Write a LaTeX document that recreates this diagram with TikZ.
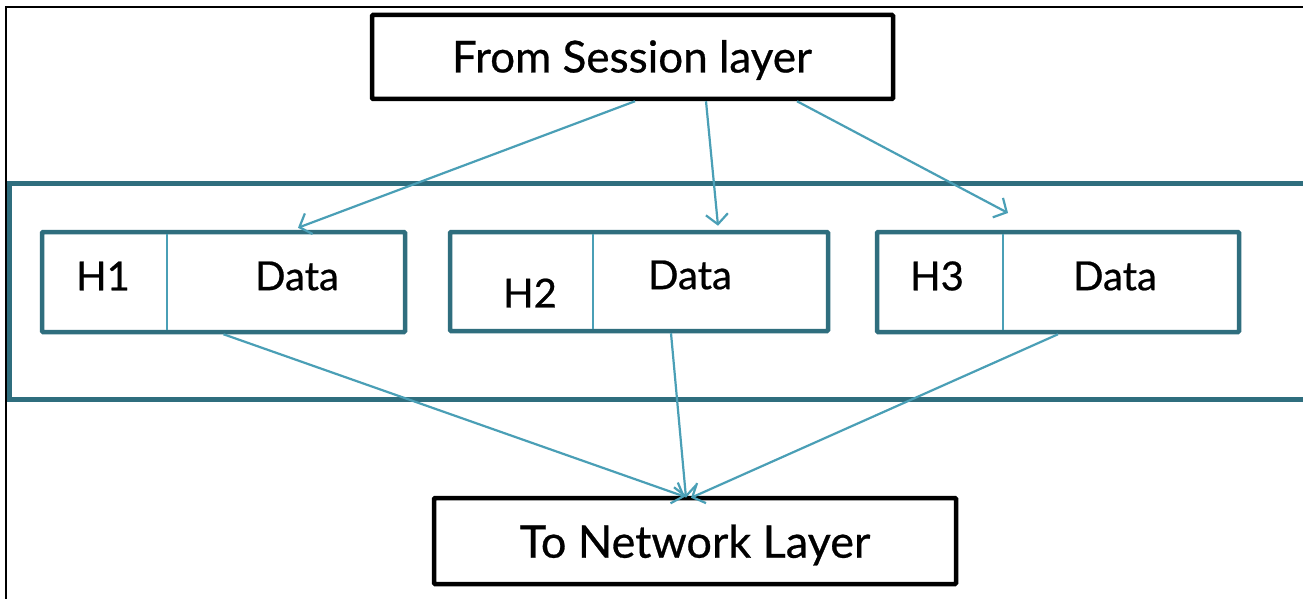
\documentclass[tikz,border=0pt]{standalone}
\usepackage{fontspec}
\setmainfont{Lato}[FakeBold=0.6]
\usetikzlibrary{arrows.meta}
\definecolor{bandteal}{HTML}{2F6E7E}
\definecolor{arrteal}{HTML}{4A9FB6}
\tikzset{
  blackbox/.style={draw=black, line width=4.5pt, rounded corners=1pt, inner sep=0pt, fill=white},
  hbox/.style={draw=bandteal, line width=4.5pt, rounded corners=1pt, inner sep=0pt, minimum width=363pt, minimum height=100pt},
  arr/.style={draw=arrteal, line width=2.2pt, -{Straight Barb[length=10pt,width=22pt,line width=2.2pt]}},
  divider/.style={draw=arrteal, line width=1.6pt},
  bigtext/.style={font=\fontsize{44}{52}\selectfont},
  celltext/.style={font=\fontsize{40}{46}\selectfont, inner sep=0pt}
}
\begin{document}
\begin{tikzpicture}[x=1pt, y=-1pt]
\clip (0,0) rectangle (1303,599);
\fill[white] (0,0) rectangle (1303,599);
% outer frame
\draw[black, line width=2.2pt] (6,620) -- (6,7) -- (1320,7);
% band
\draw[bandteal, line width=5pt] (1320,183) -- (9,183) -- (9,399) -- (1320,399);
% top and bottom boxes
\node[blackbox, minimum width=521pt, minimum height=84pt] (top) at (632.5,57) {};
\node[bigtext] at (632,60) {From Session layer};
\node[blackbox, minimum width=522pt, minimum height=86pt] (bot) at (695,541) {};
\node[bigtext, font=\fontsize{45}{52}\selectfont] at (695,545) {To Network Layer};
% H boxes
\node[hbox] (b1) at (223.5,282) {};
\node[hbox, minimum width=378pt, minimum height=99pt] (b2) at (639,281.5) {};
\node[hbox, minimum width=362pt] (b3) at (1058,282) {};
\draw[divider] (167,234) -- (167,330);
\draw[divider] (593,234) -- (593,329);
\draw[divider] (1003,234) -- (1003,330);
\node[celltext] (h1) at (103,276) {H1};
\node[celltext] (d1) at (297,276) {Data};
\node[celltext] (h2) at (530,293) {H2};
\node[celltext] (d2) at (690,275) {Data};
\node[celltext] (h3) at (937,276) {H3};
\node[celltext] (d3) at (1115,276) {Data};
% arrows from top
\coordinate (t3) at (1008,213);
\draw[arr] ([xshift=2.5pt]top.south) -- ([xshift=74.5pt,yshift=2pt]b1.north);
\draw[arr] ([xshift=73.5pt]top.south) -- ([xshift=79pt,yshift=4pt]b2.north);
\draw[arr] ([xshift=164.5pt]top.south) -- (t3);
% arrows to bottom
\draw[arr] (b1.south) -- ([xshift=-10pt,yshift=-1pt]bot.north);
\draw[arr] ([xshift=32pt]b2.south) -- ([xshift=-9pt,yshift=-2pt]bot.north);
\draw[arr] (b3.south) -- ([xshift=-4pt,yshift=-2pt]bot.north);
\end{tikzpicture}
\end{document}
